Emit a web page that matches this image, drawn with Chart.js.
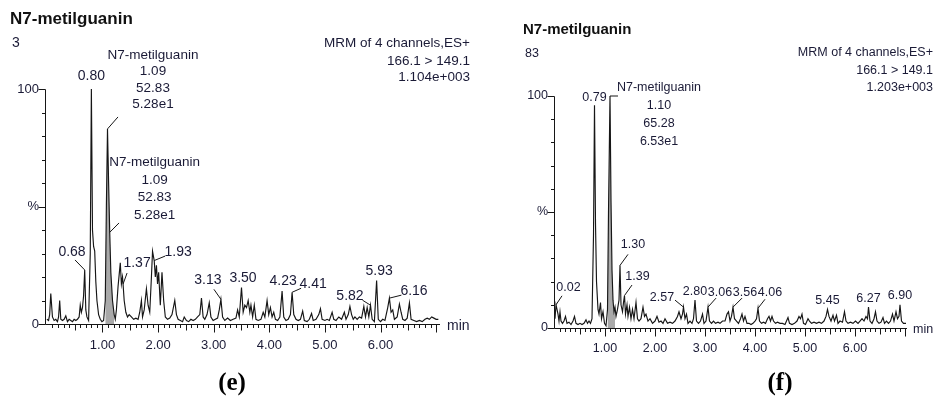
<!DOCTYPE html>
<html>
<head>
<meta charset="utf-8">
<script src="https://cdn.jsdelivr.net/npm/chart.js@4.4.1/dist/chart.umd.min.js"></script>
<style>
  html, body { margin: 0; padding: 0; background: #fff; }
  #wrap { position: relative; width: 935px; height: 396px; overflow: hidden; }
  canvas { position: absolute; top: 0; }
  #chart-e { left: 0; }
  #chart-f { left: 480px; }
</style>
</head>
<body>
<div id="wrap">
  <canvas id="chart-e" width="470" height="396"></canvas>
  <canvas id="chart-f" width="455" height="396"></canvas>
</div>
<script>
// retention time (min) and relative intensity (%)
const E_TIME = [
  0.00, 0.03, 0.05, 0.07, 0.10, 0.13, 0.16, 0.19, 0.21, 0.23,
  0.25, 0.28, 0.31, 0.34, 0.37, 0.40, 0.43, 0.46, 0.49, 0.52,
  0.55, 0.58, 0.60, 0.62, 0.64, 0.66, 0.68, 0.70, 0.72, 0.75,
  0.78, 0.80, 0.82, 0.84, 0.86, 0.88, 0.90, 0.93, 0.96, 0.99,
  1.02, 1.05, 1.07, 1.09, 1.11, 1.13, 1.15, 1.18, 1.21, 1.23,
  1.25, 1.28, 1.30, 1.32, 1.34, 1.36, 1.37, 1.39, 1.42, 1.45,
  1.48, 1.52, 1.56, 1.60, 1.64, 1.67, 1.70, 1.72, 1.75, 1.79,
  1.82, 1.85, 1.88, 1.90, 1.93, 1.95, 1.97, 1.99, 2.01, 2.04,
  2.07, 2.10, 2.13, 2.17, 2.21, 2.25, 2.30, 2.33, 2.36, 2.40,
  2.44, 2.47, 2.51, 2.55, 2.59, 2.63, 2.67, 2.71, 2.75, 2.78,
  2.81, 2.84, 2.88, 2.92, 2.95, 2.99, 3.03, 3.07, 3.10, 3.13,
  3.16, 3.20, 3.25, 3.30, 3.35, 3.40, 3.43, 3.46, 3.50, 3.53,
  3.56, 3.59, 3.62, 3.65, 3.67, 3.70, 3.73, 3.76, 3.80, 3.85,
  3.89, 3.92, 3.96, 3.99, 4.02, 4.05, 4.08, 4.11, 4.15, 4.19,
  4.23, 4.26, 4.30, 4.34, 4.38, 4.41, 4.44, 4.48, 4.52, 4.56,
  4.60, 4.63, 4.68, 4.72, 4.76, 4.79, 4.84, 4.89, 4.92, 4.95,
  5.00, 5.04, 5.08, 5.13, 5.16, 5.20, 5.25, 5.30, 5.35, 5.38,
  5.42, 5.45, 5.48, 5.51, 5.54, 5.58, 5.62, 5.66, 5.70, 5.73,
  5.76, 5.79, 5.82, 5.85, 5.89, 5.93, 5.96, 6.00, 6.04, 6.08,
  6.13, 6.16, 6.19, 6.22, 6.25, 6.30, 6.34, 6.37, 6.40, 6.44,
  6.48, 6.52, 6.55, 6.60, 6.65, 6.70, 6.75, 6.80, 6.84, 6.88,
  6.92, 6.96, 7.00, 7.04
];
const E_PCT = [
  2, 1.5, 4, 13, 3, 1.5, 2, 1, 3, 10,
  2, 1.5, 2, 3.5, 1, 2, 1.5, 1, 2, 1.5,
  2, 3, 8, 5, 7, 12, 23, 6, 3, 1.5,
  30, 100, 40, 33, 31, 18, 10, 4, 2, 1,
  1.5, 10, 50, 83, 60, 39, 22, 10, 4, 2,
  6, 16, 21, 26, 17, 20, 17, 10, 5, 3,
  4, 3, 2, 2.5, 2, 5, 10, 3, 6, 15,
  8, 5, 20, 31, 27, 20, 25, 17, 22, 8,
  22, 10, 3, 2, 2.5, 4, 10, 4, 2, 1.5,
  1, 3, 1.5, 1, 2, 1.5, 2, 3, 4, 11,
  3, 2, 4, 9, 3, 1.5, 2, 2.5, 6, 10.5,
  3, 1.5, 2.5, 1.5, 2, 2.5, 6, 3, 15.5, 5,
  8, 7, 10, 5, 8, 3, 8, 2, 1.5, 2,
  5, 3, 10, 4, 7, 3, 5, 2, 1.5, 3,
  14, 3, 1.5, 2, 4, 13.5, 4, 2, 1.5, 2,
  5.5, 1.5, 1, 2, 4.5, 1.5, 2, 4, 6.5, 2,
  1.5, 2, 1.5, 5, 2, 1.5, 3, 2, 5, 2,
  4, 7.5, 4, 2, 3, 2, 3, 2.5, 7.5, 3,
  7, 3, 8, 2, 1, 18.5, 2, 1, 2, 1.5,
  7, 11, 5, 6, 2, 3, 8.5, 5, 2, 1.5,
  2.5, 9, 2, 1.5, 1, 1.5, 1, 2, 2.5, 2,
  3, 2.5, 2, 2
];

const F_TIME = [
  0.00, 0.02, 0.04, 0.06, 0.08, 0.10, 0.12, 0.15, 0.18, 0.21,
  0.24, 0.28, 0.32, 0.36, 0.39, 0.42, 0.46, 0.50, 0.54, 0.58,
  0.62, 0.65, 0.68, 0.71, 0.74, 0.77, 0.79, 0.81, 0.83, 0.86,
  0.88, 0.91, 0.93, 0.96, 0.99, 1.02, 1.05, 1.07, 1.10, 1.12,
  1.14, 1.16, 1.18, 1.20, 1.22, 1.25, 1.28, 1.30, 1.32, 1.35,
  1.37, 1.39, 1.41, 1.44, 1.46, 1.49, 1.52, 1.55, 1.58, 1.62,
  1.65, 1.68, 1.72, 1.76, 1.79, 1.82, 1.86, 1.90, 1.95, 2.00,
  2.04, 2.08, 2.12, 2.16, 2.20, 2.25, 2.30, 2.35, 2.40, 2.45,
  2.48, 2.52, 2.55, 2.57, 2.60, 2.63, 2.66, 2.70, 2.74, 2.77,
  2.80, 2.83, 2.87, 2.91, 2.95, 2.98, 3.02, 3.06, 3.09, 3.13,
  3.17, 3.21, 3.26, 3.30, 3.35, 3.40, 3.44, 3.47, 3.50, 3.53,
  3.56, 3.59, 3.63, 3.67, 3.71, 3.74, 3.77, 3.80, 3.84, 3.88,
  3.92, 3.96, 4.00, 4.03, 4.06, 4.09, 4.13, 4.17, 4.21, 4.25,
  4.28, 4.31, 4.34, 4.37, 4.41, 4.45, 4.50, 4.55, 4.60, 4.66,
  4.69, 4.74, 4.79, 4.84, 4.88, 4.91, 4.94, 4.97, 5.01, 5.06,
  5.09, 5.13, 5.18, 5.23, 5.28, 5.33, 5.38, 5.42, 5.45, 5.48,
  5.52, 5.56, 5.59, 5.63, 5.66, 5.70, 5.75, 5.79, 5.82, 5.86,
  5.91, 5.96, 6.01, 6.06, 6.10, 6.14, 6.18, 6.22, 6.25, 6.27,
  6.30, 6.34, 6.38, 6.41, 6.44, 6.48, 6.52, 6.56, 6.59, 6.63,
  6.67, 6.71, 6.75, 6.78, 6.82, 6.85, 6.88, 6.90, 6.93, 6.97,
  7.02
];
const F_PCT = [
  4, 10, 8, 6, 3, 7, 3, 2, 3, 5,
  2, 2.5, 1.5, 3, 5, 2, 1.5, 2, 1.5, 2,
  3.5, 2, 3, 2, 4, 40, 96, 45, 20, 8,
  6, 11, 4, 7, 2, 1, 8, 50, 100, 55,
  25, 12, 7, 9, 5, 8, 12, 27, 10, 7,
  11, 14, 6, 10, 5, 9, 4, 8, 4, 11,
  4, 3, 4, 9, 5, 6, 3, 4, 2, 3,
  5, 2.5, 3, 2, 4, 2, 2.5, 2, 3, 5,
  7, 4, 6, 9, 4, 6, 2, 3, 2, 4,
  12, 3, 2, 3, 6, 2, 3, 9, 3, 2,
  3, 2, 2.5, 2, 3, 3, 6, 7, 3, 5,
  9, 4, 3, 2, 4, 6, 3, 5, 2, 2,
  1.5, 2, 3, 4, 8.5, 3, 2, 2.5, 2, 4,
  5, 3, 5, 3, 2, 2.5, 2, 2, 1.5, 4.5,
  2, 1.5, 2, 3, 5, 4, 6, 2, 1.5, 4,
  3, 2, 2.5, 2, 2.5, 2, 3, 5, 8, 5,
  3, 5.5, 3, 5.5, 2, 3, 2.5, 7, 3, 2,
  2.5, 2, 3, 2, 3, 4, 3, 5, 4, 9,
  3, 2, 4, 7, 3, 2, 2.5, 4.5, 2, 3,
  2, 3, 6, 3, 7, 4, 5, 10, 3, 2,
  2
];

// integrated window of the N7-metilguanin peak (shaded)
const E_FILL_RANGE = [1.03, 1.22];
const F_FILL_RANGE = [1.04, 1.20];

const X_TICK_LABELS = [1, 2, 3, 4, 5, 6];
const Y_TICK_VALUES = [0, 50, 100];
const Y_TICK_TEXT = { 0: "0", 50: "%", 100: "100" };

// peak annotations: retention time, text lines
const E_PEAKS = [
  { at: 0.80, lines: ["0.80"] },
  { at: 1.09, lines: ["N7-metilguanin", "1.09", "52.83", "5.28e1"] },
  { at: 1.13, lines: ["N7-metilguanin", "1.09", "52.83", "5.28e1"] },
  { at: 0.68, lines: ["0.68"] },
  { at: 1.37, lines: ["1.37"] },
  { at: 1.93, lines: ["1.93"] },
  { at: 3.13, lines: ["3.13"] },
  { at: 3.50, lines: ["3.50"] },
  { at: 4.23, lines: ["4.23"] },
  { at: 4.41, lines: ["4.41"] },
  { at: 5.82, lines: ["5.82"] },
  { at: 5.93, lines: ["5.93"] },
  { at: 6.16, lines: ["6.16"] },
];
const F_PEAKS = [
  { at: 0.02, lines: ["0.02"] },
  { at: 0.79, lines: ["0.79"] },
  { at: 1.10, lines: ["N7-metilguanin", "1.10", "65.28", "6.53e1"] },
  { at: 1.30, lines: ["1.30"] },
  { at: 1.39, lines: ["1.39"] },
  { at: 2.57, lines: ["2.57"] },
  { at: 2.80, lines: ["2.80"] },
  { at: 3.06, lines: ["3.06"] },
  { at: 3.56, lines: ["3.56"] },
  { at: 4.06, lines: ["4.06"] },
  { at: 5.45, lines: ["5.45"] },
  { at: 6.27, lines: ["6.27"] },
  { at: 6.90, lines: ["6.90"] },
];

// label placement relative to the peak point (px): [dx, dy, lineGap, leaderX, leaderY]
const E_PLACE = [
  [0, -13, 0, null, null],
  [45.5, -74, 16.5, 10.5, -12],
  [45, -70, 17.6, 9.3, -9.4],
  [-12.7, -18, 0, -9.7, -10],
  [14, -21, 0, 4, -11],
  [24, -8.5, 0, 11, -4.5],
  [-13, -19, 0, -7, -10],
  [1.5, -9, 0, null, null],
  [1, -10, 0, null, null],
  [21, -8, 0, 9, -4],
  [-20.5, -9, 0, -8, -5],
  [2.5, -9, 0, null, null],
  [24.6, -7, 0, 12, -3],
];
const F_PLACE = [
  [12.5, -17, 0, 6, -9],
  [0, -7.5, 0, null, null],
  [49, -8, 17.7, 8, 0],
  [13, -21, 0, 8, -11],
  [13, -18.5, 0, 7.5, -10.5],
  [-21.5, -10, 0, -8.5, -7],
  [0, -8.5, 0, null, null],
  [12, -15, 0, 8, -9],
  [12, -15, 0, 9, -9],
  [12, -16, 0, 7, -9],
  [0, -8.5, 0, null, null],
  [0, -8.5, 0, null, null],
  [0, -9, 0, null, null],
];

const TRACE = "#161616";
const TEXT = "#1a1a36";
const SHADE = "#a9a9a9";
const SANS = "'Liberation Sans', Arial, sans-serif";

const msAxes = {
  id: "msAxes",
  afterDatasetsDraw(chart) {
    const { ctx, chartArea: area, scales: { x, y } } = chart;
    const ax = Math.round(area.left) + 0.5;
    const ay = Math.round(area.bottom) + 0.5;
    ctx.save();
    ctx.strokeStyle = TRACE;
    ctx.lineWidth = 1;
    ctx.beginPath();
    ctx.moveTo(ax, Math.round(y.getPixelForValue(100)) + 0.5);
    ctx.lineTo(ax, ay);
    ctx.lineTo(area.right, ay);
    for (let v = 0; v <= 100; v += 10) {
      const py = Math.round(y.getPixelForValue(v)) + 0.5;
      const len = v % 50 === 0 ? 7 : 3.5;
      ctx.moveTo(ax - len, py);
      ctx.lineTo(ax, py);
    }
    for (let k = 1; k <= 70; k++) {
      const t = k / 10;
      if (t > x.max) break;
      const px = Math.round(x.getPixelForValue(t)) + 0.5;
      const len = k % 10 === 0 ? 8 : k % 5 === 0 ? 6 : 3.5;
      ctx.moveTo(px, ay);
      ctx.lineTo(px, ay + len);
    }
    ctx.stroke();
    ctx.restore();
  },
};

const peakLabels = {
  id: "peakLabels",
  afterDatasetsDraw(chart, args, opts) {
    const { ctx, scales: { x, y } } = chart;
    const trace = chart.data.datasets[0].data;
    ctx.save();
    ctx.fillStyle = TEXT;
    ctx.strokeStyle = TRACE;
    ctx.lineWidth = 1;
    ctx.textAlign = "center";
    ctx.textBaseline = "middle";
    opts.peaks.forEach((peak, i) => {
      const point = trace.reduce((best, p) => (Math.abs(p.x - peak.at) < Math.abs(best.x - peak.at) ? p : best));
      const px = x.getPixelForValue(point.x);
      const py = y.getPixelForValue(point.y);
      const [dx, dy, gap, lx, ly] = opts.place[i];
      ctx.font = peak.lines.length > 1 ? opts.blockFont : opts.font;
      peak.lines.forEach((line, j) => ctx.fillText(line, px + dx, py + dy + j * gap));
      if (lx !== null) {
        ctx.beginPath();
        ctx.moveTo(px + lx, py + ly);
        ctx.lineTo(px, py);
        ctx.stroke();
      }
    });
    ctx.restore();
  },
};

const frameText = {
  id: "frameText",
  afterDraw(chart, args, opts) {
    const { ctx } = chart;
    ctx.save();
    ctx.textBaseline = "alphabetic";
    opts.items.forEach((item) => {
      ctx.font = item.font;
      ctx.fillStyle = item.color || TEXT;
      ctx.textAlign = item.align || "left";
      ctx.fillText(item.text, item.x, item.y);
    });
    ctx.restore();
  },
};

const buildChart = (canvas, cfg) => {
  const trace = cfg.time.map((t, i) => ({ x: t, y: cfg.pct[i] }));
  const shaded = trace.filter((p) => p.x >= cfg.fill[0] && p.x <= cfg.fill[1]);
  return new Chart(canvas, {
    type: "line",
    data: {
      datasets: [
        { data: trace, borderColor: TRACE, borderWidth: 1.15, pointRadius: 0, tension: 0, fill: false, order: 0, clip: false },
        { data: shaded, borderWidth: 0, borderColor: SHADE, backgroundColor: SHADE, pointRadius: 0, tension: 0, fill: "origin", order: 1 },
      ],
    },
    options: {
      responsive: false,
      animation: false,
      events: [],
      layout: { padding: cfg.padding },
      plugins: {
        legend: { display: false },
        tooltip: { enabled: false },
        peakLabels: { peaks: cfg.peaks, place: cfg.place, font: cfg.peakFont, blockFont: cfg.blockFont },
        frameText: { items: cfg.texts },
      },
      scales: {
        x: {
          type: "linear",
          min: cfg.xRange[0],
          max: cfg.xRange[1],
          grid: { display: false, drawTicks: false },
          border: { display: false },
          afterBuildTicks: (s) => { s.ticks = X_TICK_LABELS.map((v) => ({ value: v })); },
          afterFit: (s) => { s.height = cfg.xAxisHeight; },
          ticks: {
            autoSkip: false,
            maxRotation: 0,
            padding: cfg.xTickPad,
            color: TEXT,
            font: cfg.xTickFont,
            callback: (v) => Number(v).toFixed(2),
          },
        },
        y: {
          min: 0,
          max: 100,
          grid: { display: false, drawTicks: false },
          border: { display: false },
          afterBuildTicks: (s) => { s.ticks = Y_TICK_VALUES.map((v) => ({ value: v })); },
          afterFit: (s) => { s.width = cfg.yAxisWidth; },
          ticks: {
            padding: 6,
            color: TEXT,
            font: cfg.yTickFont,
            callback: (v) => Y_TICK_TEXT[v],
          },
        },
      },
    },
    plugins: [msAxes, peakLabels, frameText],
  });
};

buildChart(document.getElementById("chart-e"), {
  time: E_TIME,
  pct: E_PCT,
  fill: E_FILL_RANGE,
  peaks: E_PEAKS,
  place: E_PLACE,
  xRange: [-0.034, 7.07],
  padding: { top: 89, right: 30, bottom: 0, left: 0 },
  yAxisWidth: 45,
  xAxisHeight: 72,
  xTickPad: 14,
  xTickFont: { family: SANS, size: 13 },
  yTickFont: { family: SANS, size: 13 },
  peakFont: "14px " + SANS,
  blockFont: "13.5px " + SANS,
  texts: [
    { text: "N7-metilguanin", x: 10, y: 24, font: "bold 17px " + SANS, color: "#111" },
    { text: "3", x: 12, y: 47, font: "14px " + SANS },
    { text: "MRM of 4 channels,ES+", x: 470, y: 46.5, font: "13.5px " + SANS, align: "right" },
    { text: "166.1 > 149.1", x: 470, y: 65, font: "13.5px " + SANS, align: "right" },
    { text: "1.104e+003", x: 470, y: 81, font: "13.5px " + SANS, align: "right" },
    { text: "min", x: 447, y: 330, font: "14px " + SANS },
    { text: "(e)", x: 232, y: 390, font: "bold 25px 'Liberation Serif', 'Times New Roman', serif", align: "center", color: "#000" },
  ],
});

buildChart(document.getElementById("chart-f"), {
  time: F_TIME,
  pct: F_PCT,
  fill: F_FILL_RANGE,
  peaks: F_PEAKS,
  place: F_PLACE,
  xRange: [-0.02, 7.04],
  padding: { top: 96, right: 28, bottom: 0, left: 0 },
  yAxisWidth: 74,
  xAxisHeight: 68,
  xTickPad: 13,
  xTickFont: { family: "'Liberation Sans Narrow', " + SANS, size: 12.5 },
  yTickFont: { family: SANS, size: 12.5 },
  peakFont: "12.5px " + SANS,
  blockFont: "12.5px " + SANS,
  texts: [
    { text: "N7-metilguanin", x: 43, y: 33.5, font: "bold 15px " + SANS, color: "#111" },
    { text: "83", x: 45, y: 57, font: "12.5px " + SANS },
    { text: "MRM of 4 channels,ES+", x: 453, y: 56, font: "12.5px " + SANS, align: "right" },
    { text: "166.1 > 149.1", x: 453, y: 74, font: "12.5px " + SANS, align: "right" },
    { text: "1.203e+003", x: 453, y: 91, font: "12.5px " + SANS, align: "right" },
    { text: "min", x: 433, y: 333, font: "12.5px " + SANS },
    { text: "(f)", x: 300, y: 390, font: "bold 25px 'Liberation Serif', 'Times New Roman', serif", align: "center", color: "#000" },
  ],
});
</script>
</body>
</html>
